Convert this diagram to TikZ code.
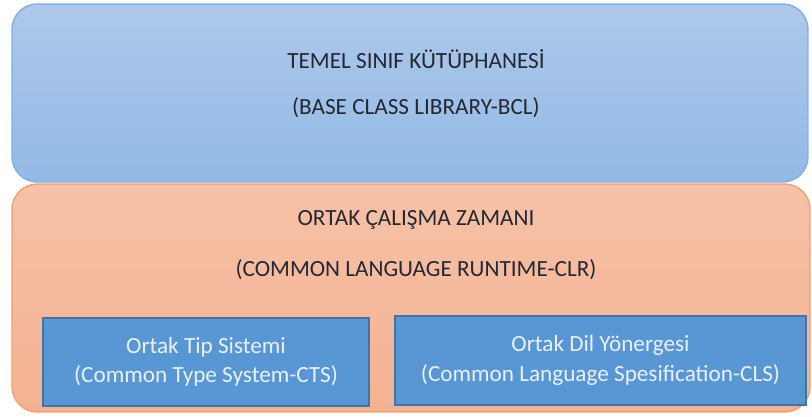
\documentclass[tikz,border=0pt]{standalone}
\usepackage{fontspec}
\setmainfont{Carlito}
\usepackage{xcolor}
\usetikzlibrary{positioning}

\definecolor{bcltop}{RGB}{173,200,234}
\definecolor{bclbot}{RGB}{147,185,230}
\definecolor{bclline}{RGB}{128,175,228}
\definecolor{clrtop}{RGB}{247,193,167}
\definecolor{clrbot}{RGB}{244,178,146}
\definecolor{clrline}{RGB}{240,160,115}
\definecolor{subfill}{RGB}{88,151,211}
\definecolor{subline}{RGB}{70,115,165}
\definecolor{subtext}{RGB}{232,240,250}
\definecolor{headtext}{RGB}{35,40,50}

\tikzset{
  layer/.style={rounded corners=18pt, line width=1pt},
  head/.style={font=\fontsize{16.5}{20}\selectfont, text=headtext, inner sep=0pt},
  subbox/.style={draw=subline, fill=subfill, line width=0.8pt, text=subtext,
    align=center, font=\fontsize{16.5}{21}\selectfont, inner sep=0pt},
}

\begin{document}
\begin{tikzpicture}[x=0.025cm, y=-0.025cm]
\useasboundingbox (0,0) rectangle (812,416);

% temel sinif kutuphanesi
\path[layer, draw=bclline, top color=bcltop, bottom color=bclbot] (12,4) rectangle (808,182);

\node[head] (bcltr) at (416,59) {TEMEL SINIF KÜTÜPHANESİ};
\node[head] (bclen) at (416,108) {(BASE CLASS LIBRARY-BCL)};


% ortak calisma zamani
\path[layer, draw=clrline, top color=clrtop, bottom color=clrbot] (12,184) rectangle (810,412);

\node[head] (clrtr) at (416,220) {ORTAK ÇALIŞMA ZAMANI};
\node[head] (clren) at (416,270) {(COMMON LANGUAGE RUNTIME-CLR)};


% alt kutular
\node[subbox, minimum width=8.15cm, minimum height=2.2cm] (cts) at (206,362)
{Ortak Tip Sistemi\\(Common Type System-CTS)};

\node[subbox, minimum width=10.275cm, minimum height=2.225cm] (cls) at (600.5,360.5)
{Ortak Dil Yönergesi\\(Common Language Spesification-CLS)};

\end{tikzpicture}
\end{document}
